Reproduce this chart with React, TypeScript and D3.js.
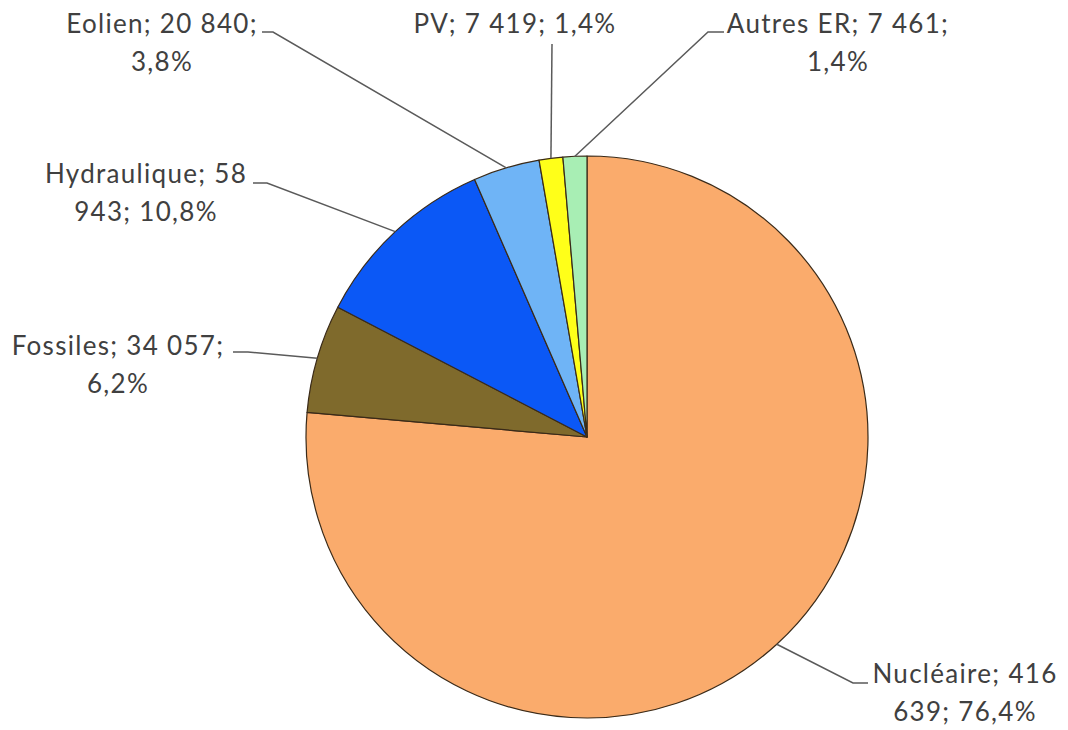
import React from "react";
import * as d3 from "d3";

// Production d'électricité par filière (GWh)
const categories = ["Nucléaire", "Fossiles", "Hydraulique", "Eolien", "PV", "Autres ER"];
const values = [416639, 34057, 58943, 20840, 7419, 7461];
const colors = ["#FAAB6C", "#7F6A2C", "#0B58F6", "#6FB4F6", "#FFFF19", "#A8EEB4"];
// number of words kept on the first line of each wrapped label
const firstLineWords = [2, 3, 2, 3, 4, 4];

// label placement: text centre x, first baseline y, leader elbow and end
const labelLayout = [
  { x: 965, y: 683, elbow: [853, 683], end: [868, 683] },
  { x: 118, y: 355, elbow: [248, 352], end: [233, 352] },
  { x: 146, y: 183, elbow: [267, 183], end: [253, 183] },
  { x: 162, y: 33, elbow: [273, 32], end: [262, 32] },
  { x: 515, y: 33, elbow: [552, 44], end: [552, 44] },
  { x: 838, y: 33, elbow: [708, 32], end: [724, 32] },
];

const W = 1068;
const H = 730;
const cx = 587;
const cy = 437;
const R = 281;
const lineGap = 38;

const frNum = (v: number) =>
  String(v).replace(/\B(?=(\d{3})+(?!\d))/g, " ");
const frPct = (p: number) => (p * 100).toFixed(1).replace(".", ",") + "%";

export default function App() {
  const total = d3.sum(values);
  const data = categories.map((name, i) => ({ name, value: values[i], i }));
  const pie = d3
    .pie<any>()
    .sort(null)
    .value((d) => d.value);
  const arcs = pie(data);
  const arc = d3.arc<any>().innerRadius(0).outerRadius(R);
  const edge = d3.arc<any>().innerRadius(R).outerRadius(R);

  return (
    <svg
      width={W}
      height={H}
      viewBox={`0 0 ${W} ${H}`}
      style={{ position: "absolute", left: 0, top: 0, background: "#fff" }}
    >
      <g transform={`translate(${cx},${cy})`}>
        {arcs.map((a) => (
          <path
            key={a.data.name}
            d={arc(a) as string}
            fill={colors[a.data.i]}
            stroke="#3a2a18"
            strokeWidth={1.2}
            strokeLinejoin="round"
          />
        ))}
      </g>
      {arcs.map((a) => {
        const i = a.data.i;
        const L = labelLayout[i];
        const [px, py] = edge.centroid(a);
        const pts = [
          [cx + px, cy + py],
          L.elbow,
          L.end,
        ];
        const line = d3.line()(pts as [number, number][]) as string;
        const words = `${a.data.name}; ${frNum(a.data.value)}; ${frPct(
          a.data.value / total
        )}`.split(" ");
        const lines = [
          words.slice(0, firstLineWords[i]).join(" "),
          words.slice(firstLineWords[i]).join(" "),
        ].filter((s) => s.length > 0);
        return (
          <g key={"lab" + i}>
            <path d={line} fill="none" stroke="#5a5a5a" strokeWidth={1.5} />
            <text
              x={L.x}
              y={L.y}
              textAnchor="middle"
              fontFamily="Lato, 'Open Sans', sans-serif"
              fontSize={26}
              letterSpacing={1.3}
              fill="#404040"
            >
              {lines.map((s, k) => (
                <tspan key={k} x={L.x} y={L.y + k * lineGap}>
                  {s}
                </tspan>
              ))}
            </text>
          </g>
        );
      })}
    </svg>
  );
}
